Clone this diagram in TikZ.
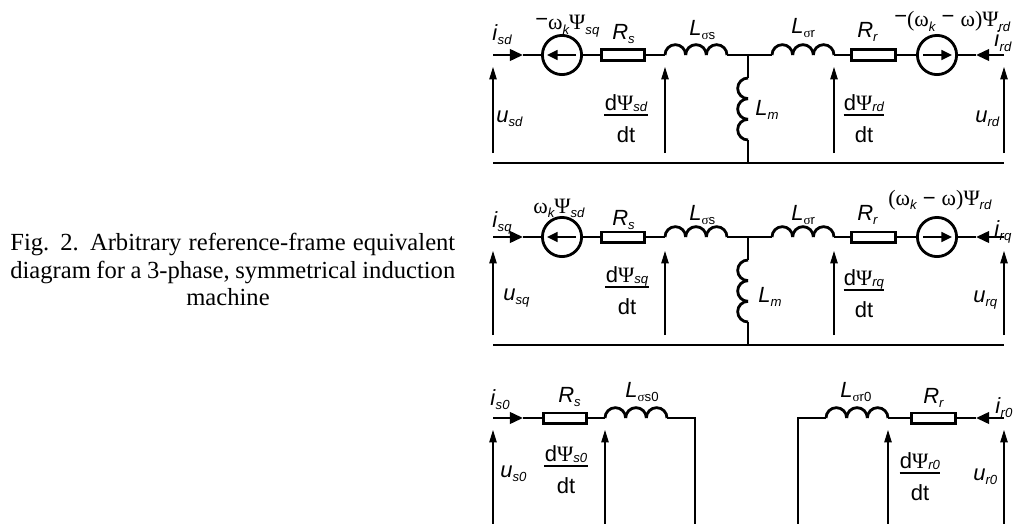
\documentclass[tikz,border=0pt]{standalone}
\usepackage{fontspec}
\setmainfont{Liberation Sans}
\newfontfamily\capfont{Liberation Serif}
\newfontfamily\grkfont{Liberation Serif}
\usetikzlibrary{arrows.meta,calc}

% label pieces
\newcommand{\sub}[1]{\raisebox{-2.5pt}{\fontsize{7.5}{8}\selectfont\itshape #1}}
\newcommand{\subup}[1]{\raisebox{-2.5pt}{\fontsize{7.5}{8}\selectfont #1}}
\newcommand{\fsub}[1]{\raisebox{-1pt}{\fontsize{7.5}{8}\selectfont\itshape #1}}
\newcommand{\gom}{{\grkfont ω}}
\newcommand{\gPsi}{{\grkfont Ψ}}
\newcommand{\gsig}{{\grkfont σ}}
\newcommand{\gpar}[1]{{\grkfont #1}}
\newcommand{\hmin}{\raisebox{2pt}{−}}

\tikzset{
  wire/.style={line width=1.6pt},
  cur/.style={-{Triangle[length=7.5pt,width=6.5pt]}},
  volt/.style={line width=0.6pt,-{Triangle[length=7pt,width=4.2pt]}},
  bar/.style={line width=0.7pt},
  res/.style={draw,line width=1.6pt,minimum width=24.6pt,minimum height=5.8pt,inner sep=0pt},
  src/.style={draw,circle,line width=1.6pt,minimum size=22.3pt,inner sep=0pt},
  lab/.style={inner sep=0pt,font=\fontsize{12.5}{14}\selectfont},
  capt/.style={inner sep=0pt,font=\capfont\fontsize{14}{16}\selectfont},
}

% flux derivative label: name, x, y of bar, subscript
\newcommand{\fluxfrac}[4]{%
  \node[lab,anchor=base] (#1n) at (#2,#3-5) {d\gPsi\fsub{#4}};
  \draw[bar] (#1n.west |- 0,#3) -- (#1n.east |- 0,#3);
  \node[lab,anchor=base] (#1d) at (#2,#3+27) {dt};
}

\begin{document}
\begin{tikzpicture}[x=0.02cm,y=-0.02cm]
\useasboundingbox (0,0) rectangle (1015,524);

% Caption
\node[capt,anchor=base west] (cap1) at (10,250)
  {\makebox[8.9cm][s]{Fig. 2. Arbitrary reference-frame equivalent}};
\node[capt,anchor=base west] (cap2) at (10,278)
  {\makebox[8.9cm][s]{diagram for a 3-phase, symmetrical induction}};
\node[capt,anchor=base] (cap3) at (228,305) {machine};

% Drawing d axis
\coordinate (dA) at (493,55);
\coordinate (dAi) at (523,55);
\node[src] (dS1) at (562,55) {};
\node[res] (dRs) at (623,55) {};
\coordinate (dLs) at (665,55);
\coordinate (dLse) at (727,55);
\coordinate (dJ) at (748,55);
\coordinate (dLm) at (748,78);
\coordinate (dLme) at (748,140);
\coordinate (dJb) at (748,163);
\coordinate (dLr) at (772,55);
\coordinate (dLre) at (834,55);
\node[res] (dRr) at (873.5,55) {};
\node[src] (dS2) at (937,55) {};
\coordinate (dBi) at (976,55);
\coordinate (dB) at (1004,55);
\coordinate (dAb) at (493,163);
\coordinate (dBb) at (1004,163);

\draw[wire,cur] (dA) -- (dAi);
\draw[wire] (dAi) -- (dS1) (dS1) -- (dRs) (dRs) -- (dLs) (dLse) -- (dLr) (dLre) -- (dRr) (dRr) -- (dS2) (dS2) -- (dBi);
\draw[wire,cur] (dB) -- (dBi);
\draw[wire] (dJ) -- (dLm) (dLme) -- (dJb);
\draw[wire] (dAb) -- (dBb);
\foreach \k in {0,1,2} {
  \draw[wire] ($(dLs)+(20.667*\k,0)$) arc[start angle=180,end angle=360,radius=10.333];
  \draw[wire] ($(dLr)+(20.667*\k,0)$) arc[start angle=180,end angle=360,radius=10.333];
  \draw[wire] ($(dLm)+(0,20.667*\k)$) arc[start angle=270,end angle=90,radius=10.333];
}
\draw[line width=1.4pt,-{Triangle[length=6pt,width=5.5pt]}] ($(dS1)+(14,0)$) -- ($(dS1)+(-15,0)$);
\draw[line width=1.4pt,-{Triangle[length=6pt,width=5.5pt]}] ($(dS2)+(-14,0)$) -- ($(dS2)+(15,0)$);
\draw[volt] ($(dAb)+(0,-10)$) -- ($(dA)+(0,12)$);
\draw[volt] ($(dLs|-dAb)+(0,-10)$) -- ($(dLs)+(0,12)$);
\draw[volt] ($(dLre|-dAb)+(0,-10)$) -- ($(dLre)+(0,12)$);
\draw[volt] ($(dBb)+(0,-10)$) -- ($(dB)+(0,12)$);

\node[lab,anchor=base west] (isd) at (492,40) {\textit{i}\sub{sd}};
\node[lab,anchor=base west] (esd) at (535,30) {\hmin\gom\sub{k}\gPsi\sub{sq}};
\node[lab,anchor=base west] (rsd) at (612,39) {\textit{R}\sub{s}};
\node[lab,anchor=base west] (lsd) at (689,35) {\textit{L}\subup{\gsig s}};
\node[lab,anchor=base west] (usd) at (496,122) {\textit{u}\sub{sd}};
\fluxfrac{fsd}{626}{115}{sd}
\node[lab,anchor=base west] (lmd) at (755,115) {\textit{L}\sub{m}};
\node[lab,anchor=base west] (lrd) at (791,33) {\textit{L}\subup{\gsig r}};
\node[lab,anchor=base west] (rrd) at (857,37) {\textit{R}\sub{r}};
\node[lab,anchor=base west] (erd) at (894,27) {\hmin\gpar{(}\gom\sub{k} \hmin{} \gom\gpar{)}\gPsi\sub{rd}};
\node[lab,anchor=base west] (ird) at (994,47) {\textit{i}\sub{rd}};
\node[lab,anchor=base west] (urd) at (975,122) {\textit{u}\sub{rd}};
\fluxfrac{frd}{864}{115}{rd}

% Drawing q axis
\coordinate (qA) at (493,237);
\coordinate (qAi) at (523,237);
\node[src] (qS1) at (562,237) {};
\node[res] (qRs) at (623,237) {};
\coordinate (qLs) at (665,237);
\coordinate (qLse) at (727,237);
\coordinate (qJ) at (748,237);
\coordinate (qLm) at (748,260);
\coordinate (qLme) at (748,322);
\coordinate (qJb) at (748,345);
\coordinate (qLr) at (772,237);
\coordinate (qLre) at (834,237);
\node[res] (qRr) at (873.5,237) {};
\node[src] (qS2) at (937,237) {};
\coordinate (qBi) at (976,237);
\coordinate (qB) at (1004,237);
\coordinate (qAb) at (493,345);
\coordinate (qBb) at (1004,345);

\draw[wire,cur] (qA) -- (qAi);
\draw[wire] (qAi) -- (qS1) (qS1) -- (qRs) (qRs) -- (qLs) (qLse) -- (qLr) (qLre) -- (qRr) (qRr) -- (qS2) (qS2) -- (qBi);
\draw[wire,cur] (qB) -- (qBi);
\draw[wire] (qJ) -- (qLm) (qLme) -- (qJb);
\draw[wire] (qAb) -- (qBb);
\foreach \k in {0,1,2} {
  \draw[wire] ($(qLs)+(20.667*\k,0)$) arc[start angle=180,end angle=360,radius=10.333];
  \draw[wire] ($(qLr)+(20.667*\k,0)$) arc[start angle=180,end angle=360,radius=10.333];
  \draw[wire] ($(qLm)+(0,20.667*\k)$) arc[start angle=270,end angle=90,radius=10.333];
}
\draw[line width=1.4pt,-{Triangle[length=6pt,width=5.5pt]}] ($(qS1)+(14,0)$) -- ($(qS1)+(-15,0)$);
\draw[line width=1.4pt,-{Triangle[length=6pt,width=5.5pt]}] ($(qS2)+(-14,0)$) -- ($(qS2)+(15,0)$);
\draw[volt] ($(qAb)+(0,-10)$) -- ($(qA)+(0,14)$);
\draw[volt] ($(qLs|-qAb)+(0,-10)$) -- ($(qLs)+(0,14)$);
\draw[volt] ($(qLre|-qAb)+(0,-10)$) -- ($(qLre)+(0,14)$);
\draw[volt] ($(qBb)+(0,-10)$) -- ($(qB)+(0,14)$);

\node[lab,anchor=base west] (isq) at (492,227) {\textit{i}\sub{sq}};
\node[lab,anchor=base west] (esq) at (533,213) {\gom\sub{k}\gPsi\sub{sd}};
\node[lab,anchor=base west] (rsq) at (612,225) {\textit{R}\sub{s}};
\node[lab,anchor=base west] (lsq) at (689,220) {\textit{L}\subup{\gsig s}};
\node[lab,anchor=base west] (usq) at (503,300) {\textit{u}\sub{sq}};
\fluxfrac{fsq}{627}{287}{sq}
\node[lab,anchor=base west] (lmq) at (758,302) {\textit{L}\sub{m}};
\node[lab,anchor=base west] (lrq) at (791,220) {\textit{L}\subup{\gsig r}};
\node[lab,anchor=base west] (rrq) at (857,220) {\textit{R}\sub{r}};
\node[lab,anchor=base west] (erq) at (888,205) {\gpar{(}\gom\sub{k} − \gom\gpar{)}\gPsi\sub{rd}};
\node[lab,anchor=base west] (irq) at (994,236) {\textit{i}\sub{rq}};
\node[lab,anchor=base west] (urq) at (973,302) {\textit{u}\sub{rq}};
\fluxfrac{frq}{864}{290}{rq}

% Drawing zero sequence
\coordinate (oA) at (493,418);
\coordinate (oAi) at (523,418);
\node[res] (oRs) at (565,418) {};
\coordinate (oLs) at (605,418);
\coordinate (oLse) at (667,418);
\coordinate (oC) at (695,418);
\coordinate (oCb) at (695,530);
\coordinate (oD) at (798,418);
\coordinate (oDb) at (798,530);
\coordinate (oLr) at (826,418);
\coordinate (oLre) at (888,418);
\node[res] (oRr) at (933.5,418) {};
\coordinate (oBi) at (976,418);
\coordinate (oB) at (1004,418);
\coordinate (oAb) at (493,530);
\coordinate (oBb) at (1004,530);

\draw[wire,cur] (oA) -- (oAi);
\draw[wire] (oAi) -- (oRs) (oRs) -- (oLs) (oLse) -- (oC) -- (oCb);
\draw[wire] (oDb) -- (oD) -- (oLr) (oLre) -- (oRr) (oRr) -- (oBi);
\draw[wire,cur] (oB) -- (oBi);
\foreach \k in {0,1,2} {
  \draw[wire] ($(oLs)+(20.667*\k,0)$) arc[start angle=180,end angle=360,radius=10.333];
  \draw[wire] ($(oLr)+(20.667*\k,0)$) arc[start angle=180,end angle=360,radius=10.333];
}
\draw[volt] (oAb) -- ($(oA)+(0,12)$);
\draw[volt] (oLs|-oAb) -- ($(oLs)+(0,12)$);
\draw[volt] (oLre|-oAb) -- ($(oLre)+(0,12)$);
\draw[volt] (oBb) -- ($(oB)+(0,12)$);

\node[lab,anchor=base west] (is0) at (490,405) {\textit{i}\sub{s0}};
\node[lab,anchor=base west] (rs0) at (558,402) {\textit{R}\sub{s}};
\node[lab,anchor=base west] (ls0) at (625,397) {\textit{L}\subup{\gsig s0}};
\node[lab,anchor=base west] (us0) at (500,477) {\textit{u}\sub{s0}};
\fluxfrac{fs0}{566}{466}{s0}
\node[lab,anchor=base west] (lr0) at (840,397) {\textit{L}\subup{\gsig r0}};
\node[lab,anchor=base west] (rr0) at (923,403) {\textit{R}\sub{r}};
\node[lab,anchor=base west] (ir0) at (995,413) {\textit{i}\sub{r0}};
\node[lab,anchor=base west] (ur0) at (973,480) {\textit{u}\sub{r0}};
\fluxfrac{fr0}{920}{473}{r0}
\end{tikzpicture}
\end{document}
